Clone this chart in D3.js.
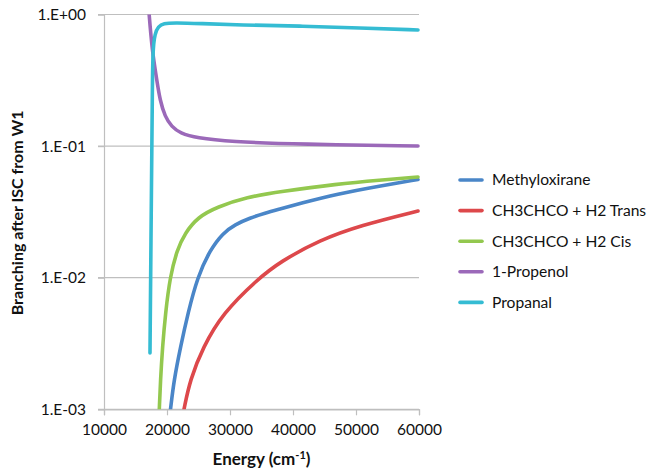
<!DOCTYPE html>
<html>
<head>
<meta charset="utf-8">
<script src="https://cdn.jsdelivr.net/npm/d3@7"></script>
<style>
  html, body { margin: 0; padding: 0; background: #fff; }
  svg { display: block; font-family: Lato, "Open Sans", sans-serif; }
</style>
</head>
<body>
<svg id="chart" width="652" height="470"></svg>
<script>
// Branching ratios after ISC from W1 versus energy (cm-1)
const seriesNames = ["Methyloxirane", "CH3CHCO + H2 Trans", "CH3CHCO + H2 Cis", "1-Propenol", "Propanal"];
const seriesColors = ["#4a86c8", "#dd484b", "#93c84f", "#9b69b9", "#35bcd3"];

const methyloxiraneE = [20556, 21111, 22143, 23333, 24841, 26825, 28889, 30794, 33175, 35556, 37937, 41111, 46984, 53810, 59841];
const methyloxiraneV = [0.0010, 0.00167, 0.00297, 0.00539, 0.01012, 0.01624, 0.02186, 0.02537, 0.02842, 0.03101, 0.03327, 0.03663, 0.04325, 0.04974, 0.05574];

const transE = [22698, 23651, 25714, 28889, 34238, 37937, 44286, 50635, 59841];
const transV = [0.0010, 0.00167, 0.00297, 0.00539, 0.00960, 0.01323, 0.01934, 0.0249, 0.0321];

const cisE = [18778, 18968, 19286, 19762, 20476, 21587, 22857, 24921, 27937, 32698, 37937, 46984, 53810, 59841];
const cisV = [0.0010, 0.00167, 0.00297, 0.00539, 0.01012, 0.01624, 0.02186, 0.02892, 0.03446, 0.04103, 0.04502, 0.05152, 0.05525, 0.05823];

const propenolE = [17100, 17620, 18460, 18890, 19680, 20750, 22060, 24710, 30000, 41110, 59840];
const propenolV = [1.10, 0.537, 0.300, 0.224, 0.167, 0.1404, 0.1258, 0.1152, 0.108, 0.1032, 0.1002];

const propanalE = [17300, 17570, 17670, 17730, 18090, 18620, 19410, 21270, 25240, 31590, 41110, 50640, 59840];
const propanalV = [0.00268, 0.0784, 0.224, 0.537, 0.723, 0.808, 0.857, 0.866, 0.854, 0.832, 0.818, 0.790, 0.763];

const xTicks = [10000, 20000, 30000, 40000, 50000, 60000];
const yTicks = [1e-3, 1e-2, 1e-1, 1];
const yTickLabels = ["1.E-03", "1.E-02", "1.E-01", "1.E+00"];

const seriesData = [
  d3.zip(methyloxiraneE, methyloxiraneV),
  d3.zip(transE, transV),
  d3.zip(cisE, cisV),
  d3.zip(propenolE, propenolV),
  d3.zip(propanalE, propanalV)
];

const plot = { left: 104, right: 419, top: 14.5, bottom: 409.3 };
const svg = d3.select("#chart");

const x = d3.scaleLinear().domain([10000, 60000]).range([plot.left, plot.right]);
const y = d3.scaleLog().domain([1e-3, 1]).range([plot.bottom, plot.top]);

const axisColor = "#bfbfbf";
const textColor = "#111";

// horizontal gridlines at each decade
svg.append("g")
  .selectAll("line")
  .data(yTicks)
  .join("line")
  .attr("x1", plot.left - 6)
  .attr("x2", plot.right)
  .attr("y1", d => y(d))
  .attr("y2", d => y(d))
  .attr("stroke", axisColor)
  .attr("stroke-width", 1.2);

// y axis
const yAxis = svg.append("g")
  .attr("transform", `translate(${plot.left},0)`)
  .call(d3.axisLeft(y).tickValues(yTicks).tickFormat((d, i) => yTickLabels[i]).tickSize(6).tickPadding(12));
yAxis.select(".domain").attr("stroke", axisColor).attr("stroke-width", 1.2);
yAxis.selectAll(".tick line").attr("stroke", axisColor).attr("stroke-width", 1.2);
yAxis.selectAll(".tick text")
  .attr("fill", textColor)
  .style("font-size", "15.5px")
  .style("font-family", "Lato, sans-serif");

// x axis
const xAxis = svg.append("g")
  .attr("transform", `translate(0,${plot.bottom})`)
  .call(d3.axisBottom(x).tickValues(xTicks).tickFormat(d3.format("d")).tickSize(6).tickPadding(9));
xAxis.select(".domain").attr("stroke", axisColor).attr("stroke-width", 1.2);
xAxis.selectAll(".tick line").attr("stroke", axisColor).attr("stroke-width", 1.2);
xAxis.selectAll(".tick text")
  .attr("fill", textColor)
  .style("font-size", "15.5px")
  .style("font-family", "Lato, sans-serif");

// clip the series to the plot area
svg.append("clipPath").attr("id", "plotClip")
  .append("rect")
  .attr("x", plot.left)
  .attr("y", plot.top)
  .attr("width", plot.right - plot.left + 4)
  .attr("height", plot.bottom - plot.top);

const line = d3.line()
  .x(d => x(d[0]))
  .y(d => y(d[1]))
  .curve(d3.curveBasis);

svg.append("g")
  .attr("clip-path", "url(#plotClip)")
  .selectAll("path")
  .data(seriesData)
  .join("path")
  .attr("d", line)
  .attr("fill", "none")
  .attr("stroke", (d, i) => seriesColors[i])
  .attr("stroke-width", 3.6)
  .attr("stroke-linecap", "round")
  .attr("stroke-linejoin", "round");

// axis titles
const xTitle = svg.append("text")
  .attr("x", (plot.left + plot.right) / 2)
  .attr("y", 465)
  .attr("text-anchor", "middle")
  .attr("fill", textColor)
  .style("font-weight", "bold")
  .style("font-size", "17px");
xTitle.append("tspan").text("Energy (cm");
xTitle.append("tspan").attr("dy", -6).style("font-size", "11px").text("-1");
xTitle.append("tspan").attr("dy", 6).text(")");

svg.append("text")
  .attr("transform", `translate(23,${(plot.top + plot.bottom) / 2 + 1}) rotate(-90)`)
  .attr("text-anchor", "middle")
  .attr("fill", textColor)
  .style("font-weight", "bold")
  .style("font-size", "16px")
  .text("Branching after ISC from W1");

// legend
const legend = svg.append("g").attr("transform", "translate(460,180)");
const rows = legend.selectAll("g")
  .data(seriesNames)
  .join("g")
  .attr("transform", (d, i) => `translate(0,${i * 30.6})`);
rows.append("line")
  .attr("x1", 0).attr("x2", 22)
  .attr("stroke", (d, i) => seriesColors[i])
  .attr("stroke-width", 3.6)
  .attr("stroke-linecap", "round");
rows.append("text")
  .attr("x", 32)
  .attr("dy", "0.35em")
  .attr("fill", textColor)
  .style("font-size", "15.6px")
  .text(d => d);
</script>
</body>
</html>
